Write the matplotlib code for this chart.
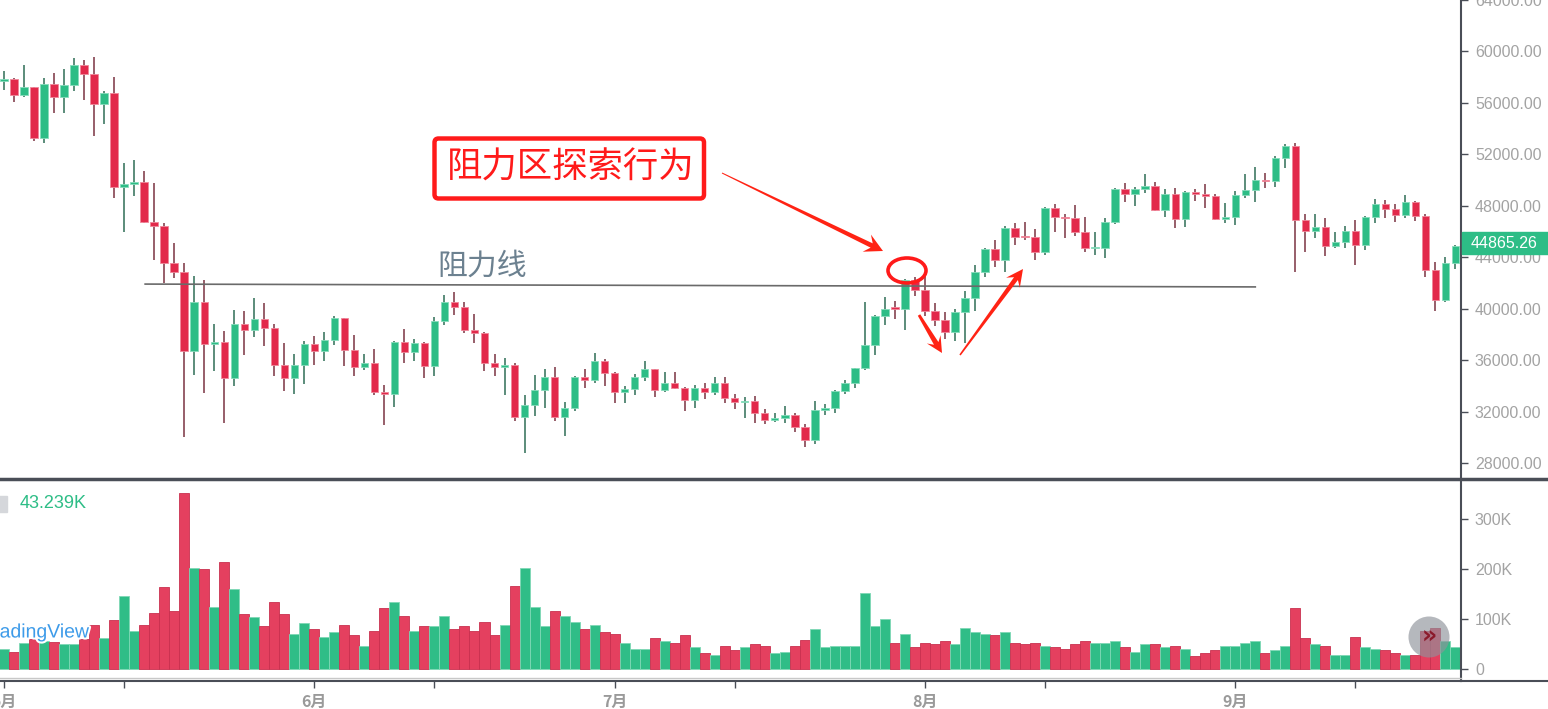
import matplotlib
matplotlib.use('Agg')
import matplotlib.pyplot as plt
import numpy as np
from matplotlib.patches import Rectangle, Ellipse, Circle, Polygon, FancyBboxPatch
from matplotlib import patheffects

plt.rcParams['font.family'] = ['Noto Sans CJK SC', 'DejaVu Sans']

# daily candles, 1 May - 23 Sep
opens = [57714, 57828, 56610, 57213, 53241, 57473, 56428, 57380, 58928, 58280, 55883, 56750, 49500, 49716, 49880, 46760,
         46450, 43538, 42849, 36690, 40526, 37252, 37449, 34655, 38796, 38324, 39241, 38529, 35663, 34605, 35641,
         37253, 36694, 37568, 39246, 36829, 35513, 35796, 33552, 33380, 37388, 36675, 37331, 35546, 39020, 40516,
         40144, 38349, 38092, 35820, 35483, 35600, 31608, 32509, 33678, 34663, 31584, 32283, 34700, 34494, 35911,
         35045, 33504, 33786, 34669, 35287, 33690, 34220, 33863, 32875, 33815, 33502, 34259, 33086, 32729, 32820,
         31880, 31383, 31520, 31778, 30839, 29790, 32144, 32287, 33634, 34258, 35425, 37208, 39457, 40019, 40016,
         42206, 41461, 39845, 39147, 38207, 39723, 40867, 42836, 44614, 43829, 46285, 45596, 45556, 44428, 47833,
         47099, 47019, 45936, 44686, 44741, 46763, 49339, 48905, 49321, 49546, 47706, 48960, 46942, 49058, 48897,
         48767, 46970, 47100, 48810, 49246, 49999, 49915, 51756, 52663, 46863, 46048, 46395, 44850, 45173, 46026,
         44940, 47111, 48121, 47737, 47299, 48292, 47241, 42993, 40693, 43574]
highs = [58449, 57900, 58973, 57200, 57911, 58360, 58650, 59500, 59300, 59595, 56900, 58000, 51367, 51600, 50700, 49800,
         46650, 45100, 43547, 42536, 42200, 38829, 38270, 39920, 39791, 40841, 40411, 38856, 37338, 36488, 37499,
         37894, 38225, 39476, 39289, 37925, 36480, 36900, 34068, 37534, 38400, 37680, 37453, 39380, 41064, 41330,
         40527, 39560, 38202, 36457, 36137, 35750, 33298, 34881, 35298, 35500, 32730, 34749, 35297, 36600, 36100,
         35057, 33977, 34945, 35967, 35293, 35118, 35059, 33929, 34100, 34262, 34666, 34678, 33340, 33114, 33185,
         32249, 31935, 32435, 31899, 31063, 32858, 32591, 33650, 34500, 35398, 40550, 39542, 40900, 40640, 42316,
         42448, 42599, 40459, 39780, 39969, 41350, 43392, 44700, 45310, 46456, 46700, 46743, 46218, 47886, 48144,
         47372, 48053, 47160, 46000, 47033, 49382, 49757, 49500, 50500, 49875, 49277, 49380, 49178, 49309, 49667,
         48939, 48246, 49156, 50450, 51000, 50558, 51900, 52780, 52920, 47340, 47399, 47033, 45987, 46460, 46876,
         47250, 48500, 48486, 48150, 48843, 48372, 47347, 43639, 44000, 44978]
lows = [57029, 56035, 56478, 53046, 52901, 55200, 55241, 56900, 56235, 53400, 54370, 48600, 46000, 48800, 46664, 43826,
        42001, 42380, 30000, 34850, 33488, 35200, 31111, 34031, 36419, 37800, 37134, 34779, 33632, 33379, 34154,
        35666, 35920, 37170, 35555, 34800, 35257, 33300, 31000, 32396, 35783, 35937, 34600, 34757, 38730, 39506,
        38116, 37365, 35129, 34803, 33336, 31251, 28805, 31683, 32287, 31275, 30151, 32071, 33862, 34225, 34017,
        32711, 32700, 33316, 34357, 33125, 33532, 33777, 32077, 32261, 33004, 33307, 32658, 32202, 31550, 31133,
        31020, 31164, 31108, 30407, 29278, 29482, 31708, 31924, 33401, 33851, 35205, 36383, 38772, 39200, 38313,
        41000, 39422, 38690, 37642, 37508, 37332, 39853, 42446, 43261, 42848, 44991, 45341, 43771, 44217, 45971,
        45500, 45660, 44376, 44203, 43955, 46622, 48274, 48003, 49034, 47600, 47123, 46250, 46370, 48371, 47801,
        46862, 46700, 46512, 48630, 48316, 49370, 49450, 50969, 42843, 44412, 45513, 44132, 44722, 44742, 43370,
        44594, 46700, 47079, 46750, 47050, 46829, 42500, 39820, 40565, 43063]
closes = [57828, 56610, 57213, 53241, 57473, 56428, 57380, 58928, 58280, 55883, 56750, 49500, 49716, 49880, 46760, 46450,
          43538, 42849, 36690, 40526, 37252, 37449, 34655, 38796, 38324, 39241, 38529, 35663, 34605, 35641, 37253,
          36694, 37568, 39246, 36829, 35513, 35796, 33552, 33380, 37388, 36675, 37331, 35546, 39020, 40516, 40144,
          38349, 38092, 35820, 35483, 35600, 31608, 32509, 33678, 34663, 31584, 32283, 34700, 34494, 35911, 35045,
          33504, 33786, 34669, 35287, 33690, 34220, 33863, 32875, 33815, 33502, 34259, 33086, 32729, 32820, 31880,
          31383, 31520, 31778, 30839, 29790, 32144, 32287, 33634, 34258, 35425, 37208, 39457, 40019, 40016, 42206,
          41461, 39845, 39147, 38207, 39723, 40867, 42836, 44614, 43829, 46285, 45596, 45556, 44428, 47833, 47099,
          47019, 45936, 44686, 44741, 46763, 49339, 48905, 49321, 49546, 47706, 48960, 46942, 49058, 48897, 48767,
          46970, 47100, 48810, 49246, 49999, 49915, 51756, 52663, 46863, 46048, 46395, 44850, 45173, 46026, 44940,
          47111, 48121, 47737, 47299, 48292, 47241, 42993, 40693, 43574, 44865.26]
volumes_k = [40.7, 35, 52, 60, 56, 54, 50, 50, 60, 89, 63, 99, 147, 77, 89, 113, 165, 117, 353, 203, 201, 125, 215, 161,
             111, 105, 87, 135, 111, 71, 93,
             81, 65, 75, 89, 69, 47, 77, 123, 135, 107, 77, 87, 87, 107, 81, 87, 77, 95, 69, 89, 167, 203, 125, 87,
             117, 107, 95, 81, 89, 75,
             71, 53, 41, 41, 63, 57, 53, 69, 45, 33, 29, 47, 39, 45, 51, 47, 33, 35, 47, 59, 81, 45, 47, 47, 47, 153,
             87, 101, 53, 71, 45,
             53, 51, 57, 51, 83, 75, 71, 69, 75, 53, 51, 53, 47, 45, 41, 51, 57, 53, 53, 57, 45, 35, 51, 51, 45, 47,
             41, 27, 33, 39, 47,
             47, 53, 57, 33, 39, 47, 123, 63, 51, 47, 29, 29, 65, 45, 41, 39, 33, 29, 29, 77, 83, 57, 43.239]

month_labels = ['5月', '6月', '7月', '8月', '9月']
month_starts = [0, 31, 61, 92, 123]
mid_month = [12, 43, 73, 104, 135]
price_ticks = [28000, 32000, 36000, 40000, 44000, 48000, 52000, 56000, 60000, 64000]
vol_ticks = [0, 100000, 200000, 300000]
vol_tick_labels = ['0', '100K', '200K', '300K']
resist_line = [(14.1, 41920), (125.0, 41700)]

GREEN = '#2dbd86'
RED = '#e2294b'
AXC = '#4a4e57'
LBL = '#a3a3a3'
W, H = 1548, 709

fig = plt.figure(figsize=(W / 100, H / 100), dpi=100)
ax = fig.add_axes([0, (H - 478) / H, 1461 / W, 478 / H])
axv = fig.add_axes([0, (H - 681) / H, 1461 / W, 201 / H])

x = np.arange(len(closes))
o = np.array(opens, float)
c = np.array(closes, float)
up = c >= o

# candles
for i in x:
    col = GREEN if up[i] else RED
    wick = '#2f6e56' if up[i] else '#7a3341'
    edge = '#86dcbb' if up[i] else '#f0879a'
    ax.vlines(i, lows[i], highs[i], color=wick, lw=1.1, zorder=2)
    ax.bar(i, max(abs(c[i] - o[i]), 90), bottom=min(o[i], c[i]), width=0.74,
           color=col, edgecolor=edge, lw=0.6, zorder=3)

ax.plot([p[0] for p in resist_line], [p[1] for p in resist_line], color='#6a6a6a', lw=1.2, zorder=4)

ax.set_xlim(-0.4, 145.55)
ax.set_ylim(26848, 63530)
ax.yaxis.tick_right()
ax.set_yticks(price_ticks)
ax.set_yticklabels(['{:.2f}'.format(t) for t in price_ticks], family='Liberation Sans')
ax.tick_params(axis='y', direction='out', length=5, width=1, color=AXC, labelcolor=LBL, labelsize=11.5, pad=5)
ax.set_xticks([])
for s in ['left', 'top', 'bottom']:
    ax.spines[s].set_visible(False)
ax.spines['right'].set_color(AXC)
ax.spines['right'].set_linewidth(1.5)

# volume
vcol = [('#30bd87' if u else '#e4405f') for u in up]
vedge = [('#7fd8b5' if u else '#c9304f') for u in up]
axv.bar(x, np.array(volumes_k) * 1000, width=1.0, color=vcol, edgecolor=vedge, lw=0.6, zorder=2)
axv.set_xlim(-0.4, 145.55)
axv.set_ylim(-24000, 378000)
axv.yaxis.tick_right()
axv.set_yticks(vol_ticks)
axv.set_yticklabels(vol_tick_labels, family='Liberation Sans')
axv.tick_params(axis='y', direction='out', length=5, width=1, color=AXC, labelcolor=LBL, labelsize=11.5, pad=5)
axv.set_xticks(month_starts)
axv.set_xticklabels(month_labels, fontweight='bold')
axv.set_xticks(mid_month, minor=True)
axv.tick_params(axis='x', which='both', direction='out', length=5, width=1, color=AXC,
                labelcolor='#9a9a9a', labelsize=11.5, pad=4)
for s in ['left', 'top']:
    axv.spines[s].set_visible(False)
for s in ['right', 'bottom']:
    axv.spines[s].set_color(AXC)
    axv.spines[s].set_linewidth(1.5)

# overlay in pixel coordinates for the drawn annotations
ov = fig.add_axes([0, 0, 1, 1], zorder=10)
ov.set_xlim(0, W)
ov.set_ylim(H, 0)
ov.axis('off')
ov.plot([0, W], [478.5, 478.5], color=AXC, lw=2.5)
ov.plot([1461, W], [681, 681], color=AXC, lw=1.5)
ov.plot([0, 1461], [678, 678], color='#c8c8c8', lw=1)

# last price tag
ov.add_patch(Rectangle((1462, 232), 86, 22, color=GREEN))
ov.text(1471, 243.5, '44865.26', color='white', fontsize=11.5, va='center', ha='left', family='Liberation Sans')

# volume legend and watermark
ov.add_patch(Rectangle((-5, 496), 12, 16, color='#d5d7db'))
ov.text(20, 504, '43.239K', color=GREEN, fontsize=13, va='center', family='Liberation Sans')
ov.text(-18, 633, 'TradingView', color='#3d9be9', fontsize=14, va='center', family='Liberation Sans',
        path_effects=[patheffects.withStroke(linewidth=3, foreground='white')])
ov.add_patch(Circle((1429, 637), 20.5, color='#8e929a', alpha=0.65, lw=0))
ov.text(1429, 637, '»', color='#8b1a2b', fontsize=17, fontweight='bold', ha='center', va='center',
        family='DejaVu Sans')

# annotations
ov.text(437, 266, '阻力线', color='#6c8190', fontsize=21.5, va='center', ha='left')
ov.add_patch(FancyBboxPatch((434.5, 138.5), 269.5, 60, boxstyle='round,pad=0,rounding_size=4',
                            fill=False, edgecolor='#ff1a1a', lw=3.2))
ov.text(571, 168, '阻力区探索行为', color='#ff1a1a', fontsize=25.5, va='center', ha='center')
ov.add_patch(Ellipse((907, 270.5), 38, 25, fill=False, edgecolor='#ff1a1a', lw=2.6))


def arrow_poly(tail, tip, head_len, head_w, shaft_w, tail_w=0.4):
    t = np.array(tail, float)
    p = np.array(tip, float)
    u = (p - t) / np.linalg.norm(p - t)
    n = np.array([-u[1], u[0]])
    notch = p - u * head_len * 0.7
    back = p - u * head_len
    return [t + n * tail_w, notch + n * shaft_w, back + n * head_w, p,
            back - n * head_w, notch - n * shaft_w, t - n * tail_w]


for tail, tip, hl, hw, sw, tw in [((722, 173), (883, 251), 18, 9.5, 2.4, 0.5),
                                  ((919, 315), (942, 353), 16, 8, 2.6, 1.4),
                                  ((960, 355), (1023, 269), 17, 8.5, 2.4, 0.8)]:
    ov.add_patch(Polygon(arrow_poly(tail, tip, hl, hw, sw, tw), closed=True, color='#ff2314', lw=0))

fig.savefig('out.png', dpi=100)
